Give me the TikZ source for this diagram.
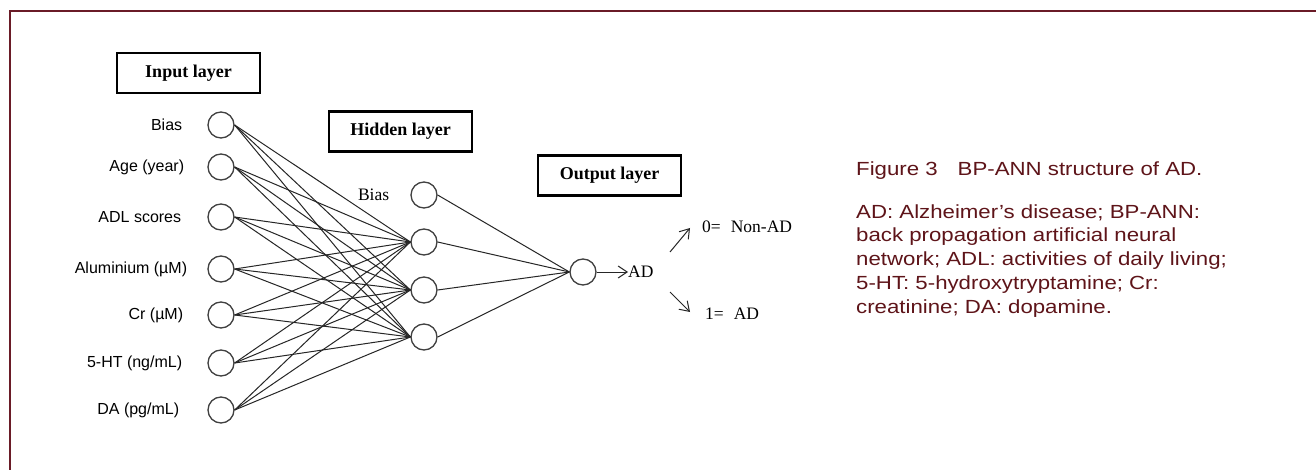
\documentclass[tikz,border=0pt]{standalone}
\usepackage{fontspec}
\setmainfont{Liberation Serif}
\newfontfamily\sans{Liberation Sans}
\newfontfamily\capfont[FakeStretch=1.17]{Liberation Sans}
\usetikzlibrary{arrows.meta}
\definecolor{capcol}{HTML}{5E1419}
\definecolor{framecol}{HTML}{6A1B27}
\begin{document}
\begin{tikzpicture}[x=1pt,y=-1pt,
 neuron/.style={circle,draw=black!75,line width=1.3pt,minimum size=26pt,inner sep=0pt},
 layerbox/.style={draw=black,line width=2.2pt,minimum width=143pt,minimum height=40pt,inner sep=0pt,font=\fontsize{18}{21}\selectfont\bfseries},
 inlabel/.style={anchor=east,inner sep=0pt,font=\sans\fontsize{16}{19}\selectfont},
 serlabel/.style={inner sep=0pt,font=\fontsize{17.5}{20}\selectfont},
 link/.style={draw=black!85,line width=1pt},
 arr/.style={link,-{Straight Barb[length=9pt,width=12pt]}},
 captext/.style={anchor=base west,align=left,text=capcol,inner sep=0pt,font=\capfont\fontsize{19}{23.7}\selectfont}
]
\useasboundingbox (0,0) rectangle (1316,470);
\fill[white] (0,0) rectangle (1316,470);
\draw[framecol,line width=2.5pt] (1316,11) -- (10,11) -- (10,470);

% layer boxes
\node[layerbox] (inbox) at (188.5,73) {Input layer};
\node[layerbox] (hidbox) at (400.5,131.5) {Hidden layer};
\node[layerbox] (outbox) at (609.5,175.5) {Output layer};

% input neurons
\node[neuron] (i0) at (221,125) {};
\node[neuron] (i1) at (221,167) {};
\node[neuron] (i2) at (221,217) {};
\node[neuron] (i3) at (221,269) {};
\node[neuron] (i4) at (221,315) {};
\node[neuron] (i5) at (221,363) {};
\node[neuron] (i6) at (221,410) {};
\node[inlabel] (l0) at ([xshift=-25pt]i0.west) {Bias};
\node[inlabel] (l1) at ([xshift=-23pt]i1.west) {Age (year)};
\node[inlabel] (l2) at ([xshift=-26pt]i2.west) {ADL scores};
\node[inlabel] (l3) at ([xshift=-20pt]i3.west) {Aluminium (µM)};
\node[inlabel] (l4) at ([xshift=-24pt]i4.west) {Cr (µM)};
\node[inlabel] (l5) at ([xshift=-25pt]i5.west) {5-HT (ng/mL)};
\node[inlabel] (l6) at ([xshift=-28pt]i6.west) {DA (pg/mL)};

% hidden neurons
\node[neuron] (h0) at (424,195) {};
\node[neuron] (h1) at (424,242) {};
\node[neuron] (h2) at (424,290) {};
\node[neuron] (h3) at (424,337) {};
\node[serlabel,anchor=east] (hbias) at ([xshift=-21pt]h0.west) {Bias};

% output
\node[neuron] (out) at (583,272) {};
\node[serlabel,anchor=west] (ad) at (628,272) {AD};

% connections
\foreach \i in {0,...,6}
  \foreach \j in {1,2,3}
    \draw[link] (i\i.east) -- (h\j.west);
\foreach \j in {0,...,3}
  \draw[link] (h\j.east) -- (out.west);
\draw[arr] (out.east) -- (ad.west);

% result arrows
\coordinate (a1s) at (670,252);
\coordinate (a1e) at (690,228);
\coordinate (a2s) at (670,292);
\coordinate (a2e) at (690,312);
\draw[arr] (a1s) -- (a1e);
\draw[arr] (a2s) -- (a2e);
\node[serlabel,anchor=west] (r0) at (702,227) {0=\hspace{10pt}Non-AD};
\node[serlabel,anchor=west] (r1) at (705,314) {1=\hspace{10pt}AD};

% caption
\node[captext] (cap) at (856,176) {Figure 3\hspace{20pt}BP-ANN structure of AD.};
\node[captext] (capbody) at (856,313) {AD: Alzheimer’s disease; BP-ANN:\\back propagation artificial neural\\network; ADL: activities of daily living;\\5-HT: 5-hydroxytryptamine; Cr:\\creatinine; DA: dopamine.};
\end{tikzpicture}
\end{document}
